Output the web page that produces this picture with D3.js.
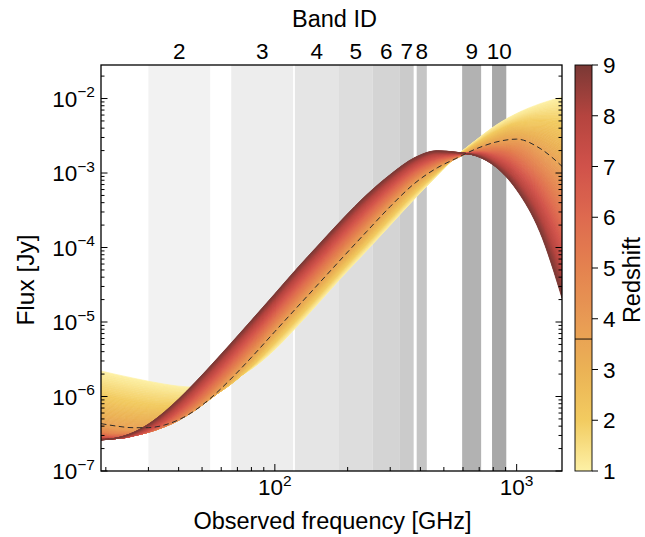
<!DOCTYPE html>
<html><head><meta charset="utf-8">
<script src="https://cdn.jsdelivr.net/npm/d3@7"></script>
<style>
html,body{margin:0;padding:0;background:#fff;}
text{font-family:"Liberation Sans",Arial,Helvetica,sans-serif;fill:#000;}
</style></head><body>
<svg id="chart" width="645" height="537"></svg>
<script>
// ---------------- data ----------------
const freqGHz = [19.1, 22, 26, 30, 35, 40, 47, 55, 65, 80, 100, 125, 150, 190, 240, 300, 380, 470, 560, 680, 820, 1000, 1250, 1540];
const redshifts = [1, 2, 3, 3.6, 4, 5, 6, 7, 8, 9];
// log10 of flux in Jy, one array per redshift
const log10Flux_z1   = [-5.658,-5.703,-5.754,-5.795,-5.834,-5.861,-5.874,-5.857,-5.791,-5.630,-5.368,-5.040,-4.760,-4.390,-4.040,-3.700,-3.340,-3.030,-2.780,-2.557,-2.360,-2.200,-2.070,-1.980];
const log10Flux_z2   = [-5.995,-6.037,-6.082,-6.113,-6.131,-6.129,-6.088,-5.999,-5.848,-5.596,-5.276,-4.941,-4.661,-4.293,-3.941,-3.604,-3.261,-2.991,-2.790,-2.602,-2.447,-2.333,-2.301,-2.338];
const log10Flux_z3   = [-6.230,-6.267,-6.300,-6.314,-6.303,-6.263,-6.165,-6.016,-5.814,-5.522,-5.183,-4.843,-4.563,-4.197,-3.843,-3.508,-3.182,-2.952,-2.800,-2.648,-2.533,-2.465,-2.531,-2.695];
const log10Flux_z3p6 = [-6.364,-6.396,-6.419,-6.418,-6.382,-6.313,-6.181,-6.005,-5.781,-5.475,-5.128,-4.784,-4.504,-4.139,-3.784,-3.450,-3.134,-2.929,-2.806,-2.675,-2.585,-2.545,-2.670,-2.910];
const log10Flux_z4   = [-6.419,-6.448,-6.465,-6.453,-6.405,-6.320,-6.168,-5.982,-5.750,-5.439,-5.090,-4.745,-4.465,-4.101,-3.747,-3.418,-3.109,-2.912,-2.800,-2.682,-2.610,-2.596,-2.754,-3.041];
const log10Flux_z5   = [-6.490,-6.511,-6.512,-6.480,-6.401,-6.293,-6.116,-5.910,-5.667,-5.349,-4.996,-4.648,-4.368,-4.005,-3.656,-3.339,-3.045,-2.870,-2.784,-2.700,-2.672,-2.722,-2.963,-3.368];
const log10Flux_z6   = [-6.529,-6.540,-6.525,-6.474,-6.370,-6.241,-6.047,-5.829,-5.579,-5.257,-4.902,-4.551,-4.271,-3.909,-3.565,-3.259,-2.981,-2.827,-2.768,-2.717,-2.734,-2.848,-3.172,-3.696];
const log10Flux_z7   = [-6.562,-6.564,-6.529,-6.454,-6.328,-6.180,-5.970,-5.743,-5.488,-5.162,-4.807,-4.454,-4.174,-3.812,-3.473,-3.179,-2.917,-2.785,-2.752,-2.735,-2.796,-2.975,-3.382,-4.025];
const log10Flux_z8   = [-6.575,-6.565,-6.510,-6.418,-6.270,-6.109,-5.888,-5.655,-5.397,-5.069,-4.713,-4.357,-4.077,-3.716,-3.381,-3.100,-2.854,-2.742,-2.736,-2.752,-2.858,-3.102,-3.591,-4.353];
const log10Flux_z9   = [-6.583,-6.559,-6.482,-6.370,-6.204,-6.032,-5.803,-5.565,-5.305,-4.976,-4.619,-4.260,-3.980,-3.620,-3.290,-3.020,-2.790,-2.700,-2.720,-2.770,-2.920,-3.228,-3.800,-4.680];
const dashedRedshift = 3.6;

const bandIds     = ["2","3","4","5","6","7","8","9","10"];
const bandLowGHz  = [30, 66, 121, 184, 254, 329, 386, 595, 791];
const bandHighGHz = [54, 119, 184, 254, 329, 375, 425, 713, 906];

const yTickValues = [1e-7, 1e-6, 1e-5, 1e-4, 1e-3, 1e-2];
const yTickExps   = ["−7","−6","−5","−4","−3","−2"];
const xTickValues = [100, 1000];
const xTickExps   = ["2","3"];
const cbarTicks   = [1,2,3,4,5,6,7,8,9];

// ---------------- styles ----------------
const bandGrays = ["#f2f2f2","#ededed","#e5e5e5","#dddddd","#d4d4d4","#cbcbcb","#c5c5c5","#b2b2b2","#a8a8a8"];
const cmapZ      = [1, 2, 3, 4, 5, 6, 7, 8, 9];
const cmapColors = ["#fdf1a6","#f2cb60","#ebb255","#e89a54","#e4824f","#de6a4f","#d0524a","#b5443f","#7a3935"];

const W = 645, H = 537;
const L = 101, R = 562, T = 65, B = 471;
const svg = d3.select("#chart");

const x = d3.scaleLog().domain([19.1, 1540]).range([L, R]);
const y = d3.scaleLog().domain([1e-7, Math.pow(10, -1.55)]).range([B, T]);
const color = d3.scaleLinear().domain(cmapZ).range(cmapColors).interpolate(d3.interpolateRgb);

svg.append("defs").append("clipPath").attr("id","clip")
  .append("rect").attr("x",L).attr("y",T).attr("width",R-L).attr("height",B-T);

// bands
const gb = svg.append("g");
bandIds.forEach((id,i)=>{
  gb.append("rect").attr("x",x(bandLowGHz[i])).attr("y",T)
    .attr("width",x(bandHighGHz[i])-x(bandLowGHz[i])).attr("height",B-T)
    .attr("fill",bandGrays[i]);
});

// curves family
const series = [log10Flux_z1,log10Flux_z2,log10Flux_z3,log10Flux_z3p6,log10Flux_z4,log10Flux_z5,log10Flux_z6,log10Flux_z7,log10Flux_z8,log10Flux_z9];
const g = svg.append("g").attr("clip-path","url(#clip)");
const area = d3.area().x(d=>x(d.f)).y0(d=>y(Math.pow(10,d.a))).y1(d=>y(Math.pow(10,d.b))).curve(d3.curveMonotoneX);
for (let i=0;i<series.length-1;i++){
  const za = redshifts[i], zb = redshifts[i+1];
  const n = Math.max(3, Math.round((zb-za)*14));
  for (let k=0;k<n;k++){
    const t0 = k/n, t1 = (k+1)/n;
    const pts = freqGHz.map((f,j)=>({f:f,
      a: series[i][j]*(1-t0)+series[i+1][j]*t0,
      b: series[i][j]*(1-t1)+series[i+1][j]*t1}));
    const c = color(za+(zb-za)*(t0+t1)/2);
    g.append("path").attr("d",area(pts)).attr("fill",c).attr("stroke",c).attr("stroke-width",0.7);
  }
}
// dashed curve
const line = d3.line().x((f,j)=>x(f)).y((f,j)=>y(Math.pow(10,log10Flux_z3p6[j]))).curve(d3.curveMonotoneX);
g.append("path").attr("d",line(freqGHz)).attr("fill","none")
  .attr("stroke","#2a2a2a").attr("stroke-width",1).attr("stroke-dasharray","5.5,3.5");

// frame
svg.append("rect").attr("x",L).attr("y",T).attr("width",R-L).attr("height",B-T)
  .attr("fill","none").attr("stroke","#000").attr("stroke-width",1.3);

// ticks
const tk = svg.append("g").attr("stroke","#000").attr("stroke-width",1);
for (let e=-7;e<=-2;e++){
  for (let m=1;m<=9;m++){
    const v = m*Math.pow(10,e);
    if (v < 1e-7 || v > Math.pow(10,-1.55)) continue;
    const yy = y(v), len = (m===1)?6.5:3.5;
    tk.append("line").attr("x1",L).attr("x2",L+len).attr("y1",yy).attr("y2",yy);
    tk.append("line").attr("x1",R).attr("x2",R-len).attr("y1",yy).attr("y2",yy);
  }
}
for (let e=1;e<=3;e++){
  for (let m=1;m<=9;m++){
    const v = m*Math.pow(10,e);
    if (v < 19.1 || v > 1540) continue;
    const xx = x(v), len = (m===1)?7:4;
    tk.append("line").attr("x1",xx).attr("x2",xx).attr("y1",B).attr("y2",B-len);
  }
}

// y tick labels
const fs = 22.5, fsup = 15.5, fl = 23.5;
yTickValues.forEach((v,i)=>{
  const t = svg.append("text").attr("x",95).attr("y",y(v)+8).attr("text-anchor","end").attr("font-size",fs);
  t.append("tspan").text("10");
  t.append("tspan").attr("font-size",fsup).attr("dy",-9.5).text(yTickExps[i]);
});
// x tick labels
xTickValues.forEach((v,i)=>{
  const t = svg.append("text").attr("x",x(v)).attr("y",495).attr("text-anchor","middle").attr("font-size",fs);
  t.append("tspan").text("10");
  t.append("tspan").attr("font-size",fsup).attr("dy",-9.5).text(xTickExps[i]);
});
// axis labels
svg.append("text").attr("x",(L+R)/2+1).attr("y",529).attr("text-anchor","middle").attr("font-size",fl)
  .text("Observed frequency [GHz]");
svg.append("text").attr("transform","translate(34,280) rotate(-90)").attr("text-anchor","middle").attr("font-size",24.5)
  .text("Flux [Jy]");
// top band labels
bandIds.forEach((id,i)=>{
  svg.append("text").attr("x",(x(bandLowGHz[i])+x(bandHighGHz[i]))/2)
    .attr("y",59).attr("text-anchor","middle").attr("font-size",fs).text(id);
});
svg.append("text").attr("x",(L+R)/2+3).attr("y",27).attr("text-anchor","middle").attr("font-size",fl).text("Band ID");

// colorbar
const cbX = 575, cbW = 17;
const cy = d3.scaleLinear().domain([1,9]).range([B,T]);
const grad = svg.select("defs").append("linearGradient").attr("id","cbgrad")
  .attr("x1",0).attr("y1",1).attr("x2",0).attr("y2",0);
d3.range(0,41).forEach(k=>{
  const z = 1 + 8*k/40;
  grad.append("stop").attr("offset",(k/40)).attr("stop-color",color(z));
});
svg.append("rect").attr("x",cbX).attr("y",T).attr("width",cbW).attr("height",B-T).attr("fill","url(#cbgrad)");
svg.append("line").attr("x1",cbX).attr("x2",cbX+cbW).attr("y1",cy(dashedRedshift)).attr("y2",cy(dashedRedshift))
  .attr("stroke","#3a2a1a").attr("stroke-width",1.2);
svg.append("rect").attr("x",cbX).attr("y",T).attr("width",cbW).attr("height",B-T)
  .attr("fill","none").attr("stroke","#000").attr("stroke-width",0.9);
cbarTicks.forEach(z=>{
  svg.append("line").attr("x1",cbX+cbW).attr("x2",cbX+cbW+6).attr("y1",cy(z)).attr("y2",cy(z)).attr("stroke","#000");
  svg.append("text").attr("x",603).attr("y",cy(z)+8).attr("font-size",fs).text(z);
});
svg.append("text").attr("transform","translate(640,280) rotate(-90)").attr("text-anchor","middle").attr("font-size",23.5)
  .text("Redshift");
</script>
</body></html>
